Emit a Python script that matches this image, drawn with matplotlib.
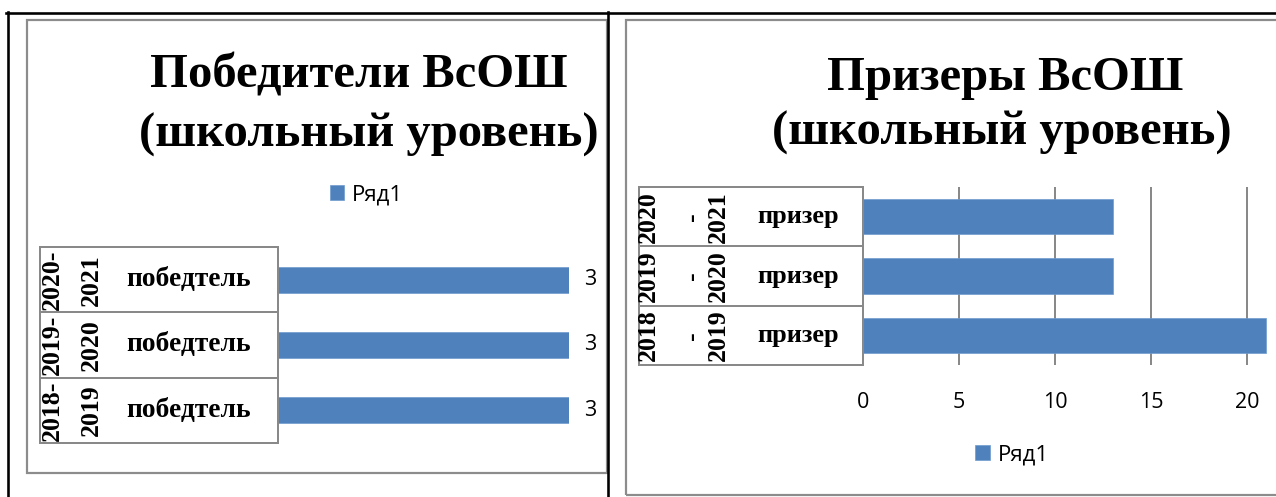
import matplotlib
matplotlib.use("Agg")
import matplotlib.pyplot as plt
from matplotlib.lines import Line2D
from matplotlib.patches import Rectangle
from matplotlib.transforms import blended_transform_factory

# ---------------- data ----------------
seasons = ["2018-2019", "2019-2020", "2020-2021"]
winner_label = "победтель"
prize_label = "призер"
winners = [3, 3, 3]
prizewinners = [21, 13, 13]
series_name = "Ряд1"
title_left = ["Победители ВсОШ", "(школьный уровень)"]
title_right = ["Призеры ВсОШ", "(школьный уровень)"]
right_ticks = [0, 5, 10, 15, 20]

# ---------------- style ----------------
BLUE = "#4F81BD"
GRID = "#898989"
FRAME = "#8C8C8C"
SERIF = "Liberation Serif"
plt.rcParams["font.family"] = ["Open Sans", "DejaVu Sans"]

W, H = 1276, 497
fig = plt.figure(figsize=(W / 100, H / 100), dpi=100)
fig.patch.set_facecolor("white")


def fx(p):
    return p / W


def fy(p):
    return 1 - p / H


def pt(p):
    return p * 0.72


# ---------------- outer frames ----------------
for (x0, y0, x1, y1) in [(6, 12.5, 1276, 12.5), (7.5, 12, 7.5, 497), (608, 12, 608, 497)]:
    fig.add_artist(Line2D([fx(x0), fx(x1)], [fy(y0), fy(y1)], color="black",
                          lw=pt(2.6), transform=fig.transFigure))
for (x0, y0, x1, y1) in [(27, 20, 606.5, 473), (626, 20, 1300, 495)]:
    fig.add_artist(Rectangle((fx(x0), fy(y1)), fx(x1) - fx(x0), fy(y0) - fy(y1),
                             transform=fig.transFigure, fill=False,
                             edgecolor=FRAME, lw=pt(2.2)))

# ---------------- left chart ----------------
ax1 = fig.add_axes([fx(278), fy(443), fx(569) - fx(278), fy(247) - fy(443)])
ypos = list(range(len(seasons)))
bars1 = ax1.barh(ypos, winners, height=0.4, color=BLUE, label=series_name,
                 edgecolor="#6F9AD0", lw=0.5)
ax1.set_xlim(0, 3)
ax1.set_ylim(-0.5, len(seasons) - 0.5)
ax1.set_xticks([])
ax1.set_yticks([])
for s in ax1.spines.values():
    s.set_visible(False)
ax1.bar_label(bars1, padding=pt(15), fontsize=15.5, annotation_clip=False)

# ---------------- right chart ----------------
ax2 = fig.add_axes([fx(863), fy(365), (1343 - 863) / W, (365 - 187) / H])
bars2 = ax2.barh(ypos, prizewinners, height=0.59, color=BLUE, label=series_name,
                 edgecolor="#6F9AD0", lw=0.5, zorder=3)
ax2.set_xlim(0, 25)
ax2.set_ylim(-0.5, len(seasons) - 0.5)
ax2.set_xticks(right_ticks)
ax2.set_yticks([])
ax2.grid(axis="x", color=GRID, lw=pt(2))
ax2.set_axisbelow(True)
ax2.tick_params(axis="x", length=0, pad=pt(27), labelsize=15.5)
for s in ax2.spines.values():
    s.set_visible(False)


# ---------------- multi-level category tables ----------------
def draw_table(ax, x_left, x_right, line_xs, splitter, label, label_x, label_size):
    tr = blended_transform_factory(fig.transFigure, ax.transData)
    n = len(seasons)
    for k in range(n + 1):
        yb = k - 0.5
        fig.add_artist(Line2D([fx(x_left), fx(x_right)], [yb, yb], color=GRID,
                              lw=pt(2), transform=tr))
    for xv in (x_left, x_right):
        fig.add_artist(Line2D([fx(xv), fx(xv)], [-0.5, n - 0.5], color=GRID,
                              lw=pt(2), transform=tr))
    for i, season in enumerate(seasons):
        parts = splitter(season)
        for part, xl in zip(parts, line_xs):
            fig.text(fx(xl), i, part, transform=tr, rotation=90, ha="center",
                     va="center", fontsize=18.5, fontfamily=SERIF, fontweight="bold")
        fig.text(fx(label_x), i, label, transform=tr, ha="center", va="center",
                 fontsize=label_size, fontfamily=SERIF, fontweight="bold")


def split_left(s):
    a, b = s.split("-")
    return [a + "-", b]


def split_right(s):
    a, b = s.split("-")
    return [a, "-", b]


draw_table(ax1, 40, 278, [52, 91], split_left, winner_label, 188.5, 19.8)
draw_table(ax2, 639, 863, [648, 692, 718], split_right, prize_label, 798, 19)

# ---------------- titles ----------------
for (cx, by), txt in zip([(359, 88), (369, 147)], title_left):
    fig.text(fx(cx), fy(by), txt, ha="center", va="baseline", fontsize=35,
             fontfamily=SERIF, fontweight="bold")
for (cx, by), txt in zip([(1005, 90), (1002, 145)], title_right):
    fig.text(fx(cx), fy(by), txt, ha="center", va="baseline", fontsize=35,
             fontfamily=SERIF, fontweight="bold")

# ---------------- legends ----------------
h1, l1 = ax1.get_legend_handles_labels()
fig.legend(h1, l1, loc="center", bbox_to_anchor=(fx(366.5), fy(195)), frameon=False,
           fontsize=16, handlelength=0.65, handleheight=0.65, handletextpad=0.35,
           borderpad=0.1)
h2, l2 = ax2.get_legend_handles_labels()
fig.legend(h2, l2, loc="center", bbox_to_anchor=(fx(1012), fy(455)), frameon=False,
           fontsize=16, handlelength=0.65, handleheight=0.65, handletextpad=0.35,
           borderpad=0.1)

fig.savefig("out.png", dpi=100, facecolor="white")
